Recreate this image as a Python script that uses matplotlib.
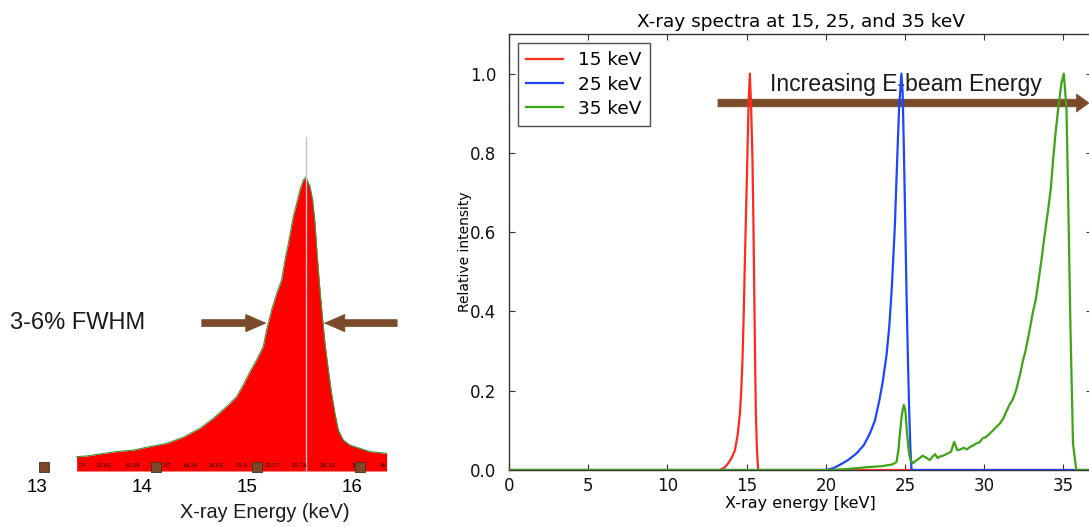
import matplotlib
matplotlib.use("Agg")
import matplotlib.pyplot as plt
from matplotlib.patches import ArrowStyle

# ---------------- data ----------------
# Left panel: measured 15 keV spectrum (normalised counts)
spec_energy = [13.378, 13.473, 13.600, 13.759, 13.917, 14.076, 14.235, 14.394, 14.552,
               14.679, 14.806, 14.902, 14.965, 15.029, 15.092, 15.155, 15.187, 15.235,
               15.283, 15.330, 15.362, 15.394, 15.441, 15.473, 15.505, 15.537, 15.562,
               15.600, 15.625, 15.648, 15.670, 15.695, 15.721, 15.743, 15.775, 15.806,
               15.838, 15.870, 15.917, 15.981, 16.076, 16.171, 16.330]
spec_counts = [0.049, 0.051, 0.058, 0.066, 0.071, 0.083, 0.094, 0.115, 0.145,
               0.179, 0.219, 0.253, 0.293, 0.338, 0.378, 0.423, 0.480, 0.548,
               0.604, 0.650, 0.718, 0.774, 0.865, 0.910, 0.956, 0.990, 1.000,
               0.967, 0.922, 0.842, 0.729, 0.616, 0.514, 0.434, 0.344, 0.264,
               0.196, 0.139, 0.105, 0.088, 0.077, 0.066, 0.060]
peak_energy = 15.56
left_ticks = [13, 14, 15, 16]
square_pos = [13.07, 14.13, 15.10, 16.08]
strip_labels = ['.74', '13.41', '13.58', '.87', '14.24', '14.65', '15.4', '15.57',
                '15.76', '16.15', '16.5', '16']
strip_pos = [13.43, 13.63, 13.91, 14.24, 14.46, 14.70, 14.95, 15.24, 15.50, 15.76,
             16.05, 16.29]
fwhm_level = 0.503
fwhm_left = (14.57, 15.18)   # arrow tail, head
fwhm_right = (16.43, 15.74)

# Right panel: simulated spectra
e15 = [0, 13.31, 13.60, 13.84, 14.05, 14.26, 14.42, 14.57, 14.66, 14.74, 14.82, 14.89,
       14.97, 15.04, 15.12, 15.20, 15.28, 15.37, 15.43, 15.48, 15.53, 15.58, 15.65,
       15.73, 36.8]
i15 = [0, 0.0, 0.006, 0.017, 0.030, 0.050, 0.085, 0.140, 0.200, 0.280, 0.400, 0.530,
       0.660, 0.780, 0.920, 1.000, 0.920, 0.780, 0.620, 0.450, 0.290, 0.150, 0.050,
       0.0, 0.0]

e25 = [0, 20.04, 20.50, 20.88, 21.40, 21.94, 22.40, 22.78, 23.10, 23.40, 23.60, 23.83,
       24.00, 24.15, 24.35, 24.50, 24.62, 24.77, 24.85, 24.92, 25.00, 25.09, 25.18,
       25.26, 25.34, 25.41, 36.8]
i25 = [0, 0.0, 0.005, 0.013, 0.025, 0.042, 0.063, 0.092, 0.125, 0.180, 0.225, 0.290,
       0.360, 0.450, 0.610, 0.780, 0.910, 1.000, 0.950, 0.820, 0.650, 0.450, 0.280,
       0.150, 0.050, 0.0, 0.0]

e35 = [0, 20.5, 21.50, 22.57, 23.60, 24.20, 24.46, 24.58, 24.67, 24.80, 24.92, 25.02,
       25.13, 25.24, 25.34, 25.50, 25.70, 25.93, 26.10, 26.30, 26.56, 26.75, 26.90,
       27.05, 27.20, 27.40, 27.60, 27.90, 28.10, 28.30, 28.50, 28.70, 28.90, 29.10,
       29.30, 29.50, 29.70, 29.90, 30.10, 30.30, 30.55, 30.80, 31.00, 31.20, 31.40,
       31.60, 31.80, 32.00, 32.25, 32.45, 32.60, 32.80, 33.08, 33.25, 33.40, 33.61,
       33.80, 34.03, 34.20, 34.34, 34.50, 34.66, 34.87, 35.02, 35.19, 35.29, 35.44,
       35.60, 35.81, 36.8]
i35 = [0, 0.0, 0.003, 0.007, 0.010, 0.014, 0.020, 0.050, 0.090, 0.140, 0.164, 0.150,
       0.090, 0.045, 0.025, 0.017, 0.024, 0.030, 0.036, 0.032, 0.025, 0.034, 0.040,
       0.030, 0.034, 0.036, 0.040, 0.046, 0.071, 0.050, 0.052, 0.056, 0.052, 0.058,
       0.062, 0.067, 0.070, 0.080, 0.083, 0.090, 0.100, 0.110, 0.118, 0.130, 0.148,
       0.165, 0.178, 0.200, 0.240, 0.277, 0.300, 0.340, 0.400, 0.430, 0.470, 0.530,
       0.590, 0.656, 0.710, 0.780, 0.850, 0.910, 0.976, 1.000, 0.910, 0.700, 0.360,
       0.067, 0.0, 0.0]

series_labels = ['15 keV', '25 keV', '35 keV']
series_colors = ['#ff2a1f', '#1f45ff', '#3da515']
x_ticks = [0, 5, 10, 15, 20, 25, 30, 35]
y_ticks = [0.0, 0.2, 0.4, 0.6, 0.8, 1.0]

BROWN = '#7b4a2a'
W, H = 1089, 527

fig = plt.figure(figsize=(W / 100, H / 100), dpi=100)
fig.patch.set_facecolor('white')

# ---------------- left panel ----------------
axl = fig.add_axes([0, 56 / H, 420 / W, 334 / H])
axl.set_xlim(12.648, 16.648)
axl.set_ylim(0, 1.136)
for s in axl.spines.values():
    s.set_visible(False)
axl.fill_between(spec_energy, 0, spec_counts, color='#ff0000', lw=0, zorder=1)
axl.plot(spec_energy, spec_counts, color='#3a9a3a', lw=0.8, zorder=2)
axl.axvline(peak_energy, color='#c8c8c8', lw=1.0, zorder=3)
axl.plot(square_pos, [0.014] * len(square_pos), ls='none', marker='s', ms=7,
         mfc=BROWN, mec='#4a2a14', mew=0.6, zorder=5, clip_on=False)
for lab, p in zip(strip_labels, strip_pos):
    axl.text(p, 0.02, lab, fontsize=3.6, color='#4a0a00', ha='center', va='center',
             family='DejaVu Serif', fontweight='bold', zorder=4)
axl.set_xticks(left_ticks)
axl.set_xticklabels([str(t) for t in left_ticks], family='Liberation Sans', fontsize=13.5)
axl.tick_params(axis='x', length=0, pad=6)
axl.set_yticks([])
astyle = ArrowStyle('simple', head_length=1.45, head_width=1.25, tail_width=0.5)
for tail, head in (fwhm_left, fwhm_right):
    axl.annotate('', xy=(head, fwhm_level), xytext=(tail, fwhm_level),
                 arrowprops=dict(arrowstyle=astyle, mutation_scale=10, fc=BROWN,
                                 ec=BROWN, lw=0.5, shrinkA=0, shrinkB=0),
                 annotation_clip=False)
fig.text(10 / W, (H - 323) / H, '3-6% FWHM', family='Liberation Sans', fontsize=17,
         ha='left', va='center', color='#1a1a1a')
fig.text(265 / W, (H - 512) / H, 'X-ray Energy (keV)', family='Liberation Sans',
         fontsize=14.3, ha='center', va='center', color='#1a1a1a')

# ---------------- right panel ----------------
axr = fig.add_axes([509 / W, 57 / H, (1092 - 509) / W, 436 / H])
for e, i, lab, c in zip([e15, e25, e35], [i15, i25, i35], series_labels, series_colors):
    axr.plot(e, i, color=c, lw=1.6, label=lab, zorder=3)
axr.set_xlim(0, 36.8)
axr.set_ylim(0, 1.1)
axr.set_xticks(x_ticks)
axr.set_yticks(y_ticks)
axr.set_yticklabels(['%.1f' % v for v in y_ticks])
axr.tick_params(direction='in', top=True, right=True, length=4, labelsize=12,
                width=0.8, colors='#333333', labelcolor='#111111')
axr.tick_params(axis='y', pad=9)
axr.tick_params(axis='x', pad=5)
for s in axr.spines.values():
    s.set_color('#333333')
    s.set_linewidth(1.0)
axr.set_xlabel('X-ray energy [keV]', fontsize=11.5, labelpad=1)
axr.set_ylabel('Relative intensity', fontsize=10, labelpad=-1)
axr.set_title('X-ray spectra at 15, 25, and 35 keV', fontsize=13.3, pad=5)
leg = axr.legend(loc='upper left', fontsize=13.3, frameon=True, fancybox=False,
                 handlelength=2.0, borderpad=0.45, labelspacing=0.33, borderaxespad=0,
                 bbox_to_anchor=(0.0154, 0.979))
leg.get_frame().set_edgecolor('#222222')
leg.get_frame().set_linewidth(1.0)

# E-beam arrow and label
bstyle = ArrowStyle('simple', head_length=0.9, head_width=1.3, tail_width=0.55)
axr.annotate('', xy=(1089 / W, (H - 103) / H), xytext=(718 / W, (H - 103) / H),
             xycoords='figure fraction', textcoords='figure fraction',
             arrowprops=dict(arrowstyle=bstyle, mutation_scale=10, fc=BROWN, ec=BROWN,
                             lw=0.5, shrinkA=0, shrinkB=0), zorder=2)
axr.text(906 / W, (H - 85) / H, 'Increasing E-beam Energy', transform=fig.transFigure,
         family='Liberation Sans', fontsize=16.6, ha='center', va='center',
         color='#1a1a1a', zorder=2)

fig.savefig('out.png', dpi=100)
